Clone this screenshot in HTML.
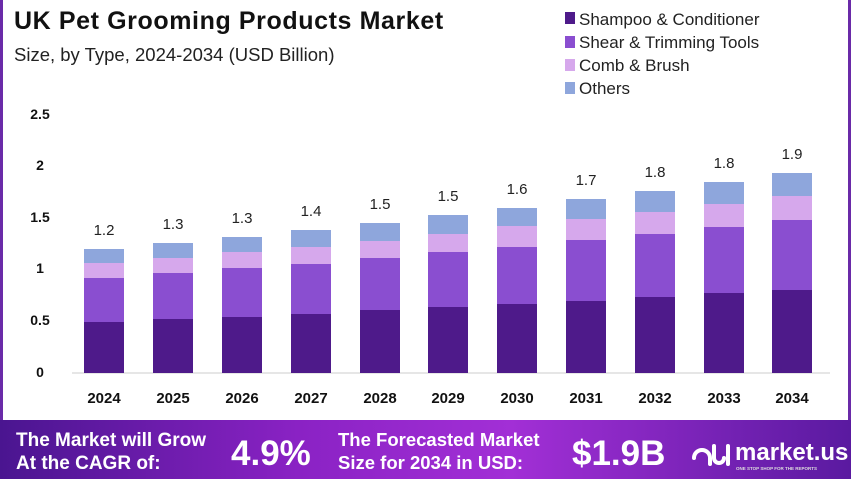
<!DOCTYPE html>
<html><head><meta charset="utf-8"><style>
html,body{margin:0;padding:0;}
body{width:851px;height:479px;overflow:hidden;background:#fff;font-family:"Liberation Sans",sans-serif;}
</style></head><body>
<svg width="851" height="479" viewBox="0 0 851 479" xmlns="http://www.w3.org/2000/svg" font-family="Liberation Sans, sans-serif">
<defs>
<linearGradient id="ft" x1="0" y1="0" x2="1" y2="0">
<stop offset="0" stop-color="#4a1590"/>
<stop offset="0.35" stop-color="#8a22c4"/>
<stop offset="0.6" stop-color="#a22fd6"/>
<stop offset="1" stop-color="#5a1aa0"/>
</linearGradient>
</defs>
<rect x="0" y="0" width="851" height="479" fill="#fff"/>
<rect x="0" y="0" width="3" height="420" fill="#6a2aa8"/>
<rect x="848" y="0" width="3" height="420" fill="#6a2aa8"/>
<text x="14" y="29" font-size="25" font-weight="bold" fill="#111" letter-spacing="0.6">UK Pet Grooming Products Market</text>
<text x="14" y="61" font-size="18.5" fill="#222">Size, by Type, 2024-2034 (USD Billion)</text>
<g font-size="17" fill="#222">
<rect x="565" y="12" width="10" height="12" fill="#4e1a8a"/><text x="579" y="25">Shampoo &amp; Conditioner</text>
<rect x="565" y="36" width="10" height="12" fill="#8a4ed0"/><text x="579" y="48">Shear &amp; Trimming Tools</text>
<rect x="565" y="59" width="10" height="12" fill="#d6a8ec"/><text x="579" y="71">Comb &amp; Brush</text>
<rect x="565" y="82" width="10" height="12" fill="#8ea6dc"/><text x="579" y="94">Others</text>
</g>
<g font-size="14" font-weight="bold" fill="#111" text-anchor="middle">
<text x="40" y="119">2.5</text><text x="40" y="170">2</text><text x="40" y="222">1.5</text>
<text x="40" y="273">1</text><text x="40" y="325">0.5</text><text x="40" y="377">0</text>
</g>
<line x1="72" y1="373" x2="830" y2="373" stroke="#ccc" stroke-width="1"/>
<g id="bars"></g>
<rect x="0" y="420" width="851" height="59" fill="url(#ft)"/>
<g fill="#fff" font-weight="bold">
<text x="16" y="446" font-size="19">The Market will Grow</text>
<text x="16" y="469" font-size="19">At the CAGR of:</text>
<text x="231" y="465" font-size="35">4.9%</text>
<text x="338" y="446" font-size="18.5">The Forecasted Market</text>
<text x="338" y="469" font-size="18.5">Size for 2034 in USD:</text>
<text x="572" y="465" font-size="35">$1.9B</text>
<text x="735" y="460" font-size="24">market.us</text>
<text x="736" y="470" font-size="4.5" fill="#ddd">ONE STOP SHOP FOR THE REPORTS</text>
<path d="M694 458 a8 8 0 0 1 16 0 v6 M714 446 v12 a5 5 0 0 0 10 0 M728 446 v18" stroke="#fff" stroke-width="4" fill="none" stroke-linecap="round"/>
</g>
</svg>
<script>
var d=[[104,249,263,278,322,"1.2","2024"],[173,243,258,273,319,"1.3","2025"],[242,237,252,268,317,"1.3","2026"],[311,230,247,264,314,"1.4","2027"],[380,223,241,258,310,"1.5","2028"],[448,215,234,252,307,"1.5","2029"],[517,208,226,247,304,"1.6","2030"],[586,199,219,240,301,"1.7","2031"],[655,191,212,234,297,"1.8","2032"],[724,182,204,227,293,"1.8","2033"],[792,173,196,220,290,"1.9","2034"]];
var s="",c=["#8ea6dc","#d6a8ec","#8a4ed0","#4e1a8a"];
d.forEach(function(b){var x=b[0]-20,ys=[b[1],b[2],b[3],b[4],373];
for(var i=0;i<4;i++)s+='<rect x="'+x+'" y="'+ys[i]+'" width="40" height="'+(ys[i+1]-ys[i])+'" fill="'+c[i]+'"/>';
s+='<text x="'+b[0]+'" y="'+(b[1]-14)+'" font-size="15" fill="#222" text-anchor="middle">'+b[5]+'</text>';
s+='<text x="'+b[0]+'" y="403" font-size="15" font-weight="bold" fill="#111" text-anchor="middle">'+b[6]+'</text>';});
document.getElementById("bars").innerHTML=s;
</script>
</body></html>
